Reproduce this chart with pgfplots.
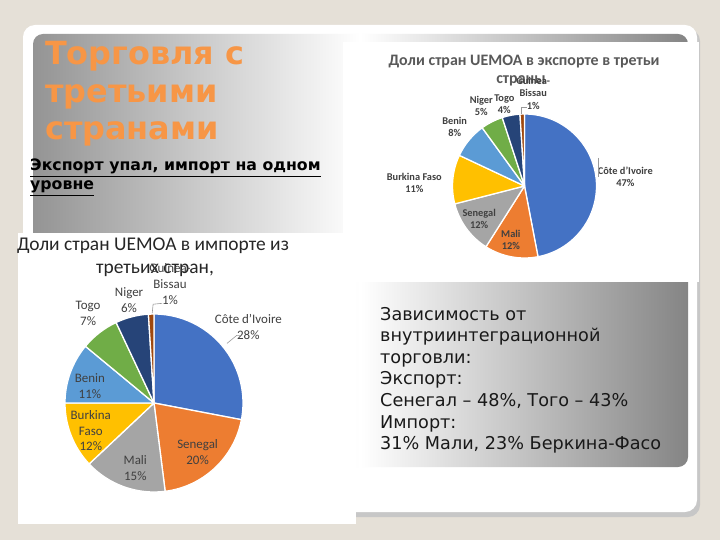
\documentclass[border=0pt]{standalone}
\usepackage{pgfplots}
\pgfplotsset{compat=1.18}
\usepackage{pgfplotstable}
\usepackage{fontspec}
\setmainfont{Carlito}
\newfontfamily\verd{DejaVu Sans}

\definecolor{bg}{HTML}{E5E0D7}
\definecolor{ttl}{HTML}{F79646}
\definecolor{txt}{HTML}{404040}
\definecolor{c1}{HTML}{4472C4}
\definecolor{c2}{HTML}{ED7D31}
\definecolor{c3}{HTML}{A5A5A5}
\definecolor{c4}{HTML}{FFC000}
\definecolor{c5}{HTML}{5B9BD5}
\definecolor{c6}{HTML}{70AD47}
\definecolor{c7}{HTML}{264478}
\definecolor{c8}{HTML}{9E480E}

\newcommand\nl{\\}

% shares in %, slice colour, label centre (pie radius = 1)
\pgfplotstableread[col sep=comma]{
name,share,col,lx,ly
Côte d'Ivoire,47,c1,1.40,0.125
Mali,12,c2,-0.19,-0.75
Senegal,12,c3,-0.63,-0.46
Burkina Faso,11,c4,-1.53,0.04
Benin,8,c5,-0.97,0.82
Niger,5,c6,-0.60,1.11
Togo,4,c7,-0.28,1.14
Guinea-\nl Bissau,1,c8,0.12,1.29
}\exporttab

\pgfplotstableread[col sep=comma]{
name,share,col,lx,ly
Côte d'Ivoire,28,c1,1.06,0.85
Senegal,20,c2,0.49,-0.55
Mali,15,c3,-0.21,-0.73
Burkina\nl Faso,12,c4,-0.71,-0.31
Benin,11,c5,-0.72,0.19
Togo,7,c6,-0.74,1.01
Niger,6,c7,-0.28,1.16
Guinea-\nl Bissau,1,c8,0.18,1.34
}\importtab

% #1 table, #2 radius, #3 label font
\newcommand\drawpie[3]{%
  \pgfplotstablegetrowsof{#1}%
  \pgfmathtruncatemacro\pielast{\pgfplotsretval-1}%
  \gdef\pieacc{90}%
  \foreach \i in {0,...,\pielast}{%
    \pgfplotstablegetelem{\i}{share}\of{#1}\let\sh\pgfplotsretval
    \pgfplotstablegetelem{\i}{col}\of{#1}\let\cl\pgfplotsretval
    \pgfmathsetmacro\aend{\pieacc-3.6*\sh}%
    \filldraw[fill=\cl, draw=white, line width=1.3pt, line join=round]
      (axis cs:0,0) -- ++(\pieacc:#2) arc[start angle=\pieacc, end angle=\aend, radius=#2] -- cycle;
    \xdef\pieacc{\aend}%
  }%
  \foreach \i in {0,...,\pielast}{%
    \pgfplotstablegetelem{\i}{share}\of{#1}\let\sh\pgfplotsretval
    \pgfplotstablegetelem{\i}{name}\of{#1}\let\nm\pgfplotsretval
    \pgfplotstablegetelem{\i}{lx}\of{#1}\let\lx\pgfplotsretval
    \pgfplotstablegetelem{\i}{ly}\of{#1}\let\ly\pgfplotsretval
    \node[align=center, text=txt, font=#3, inner sep=0pt] at (axis cs:\lx,\ly) {\nm\\\sh\%};
  }%
}

\begin{document}
\begin{tikzpicture}
\begin{scope}[x=1bp,y=-1bp]
\fill[bg] (0,0) rectangle (720,540);
% slide card and gradient panel
\fill[black!22, rounded corners=12bp] (26,29) rectangle (700,517);
\fill[white, rounded corners=12bp] (23,25) rectangle (697,512);
\shade[left color=black!42, right color=black!48, middle color=white, rounded corners=10bp] (33,34) rectangle (688,467);
% pasted chart images
\fill[white] (343,42) rectangle (699,282);
\fill[white] (18,233) rectangle (356,524);

\tikzset{ln/.style={anchor=base west, inner sep=0pt}}
\begin{scope}[every node/.append style={text=ttl, font=\verd\bfseries\fontsize{32}{38}\selectfont}]
\node[ln] at (45,65) {Торговля с};
\node[ln] at (45,102.5) {третьими};
\node[ln] at (45,140) {странами};
\end{scope}
\begin{scope}[every node/.append style={font=\verd\bfseries\fontsize{15.8}{19}\selectfont}]
\node[ln] at (30,171) {\underline{Экспорт упал, импорт на одном}};
\node[ln] at (30,190) {\underline{уровне}};
\end{scope}

\begin{scope}[every node/.append style={anchor=base, inner sep=0pt, text=black!65, font=\bfseries\fontsize{16}{19}\selectfont}]
\node at (524,66) {Доли стран UEMOA в экспорте в третьи};
\node at (521,84) {страны};
\end{scope}
\begin{scope}[every node/.append style={anchor=base, inner sep=0pt, text=black!85, font=\fontsize{19.5}{23}\selectfont}]
\node at (153,251) {Доли стран UEMOA в импорте из};
\node at (155,274) {третьих стран,};
\end{scope}

\begin{scope}[every node/.append style={text=black!90, font=\verd\fontsize{17.7}{21.6}\selectfont}]
\node[ln] at (380,320) {Зависимость от};
\node[ln] at (380,341.6) {внутриинтеграционной};
\node[ln] at (380,363.2) {торговли:};
\node[ln] at (380,384.8) {Экспорт:};
\node[ln] at (380,406.4) {Сенегал – 48\%, Того – 43\%};
\node[ln] at (380,428) {Импорт:};
\node[ln] at (380,449.6) {31\% Мали, 23\% Беркина-Фасо};
\end{scope}
\end{scope}

% export pie
\begin{axis}[hide axis, x=72bp, y=72bp, xmin=-1, xmax=1, ymin=-1, ymax=1,
  clip=false, anchor=center, at={(524.5bp,-186bp)}]
\pgfplotsextra{\drawpie{\exporttab}{72bp}{\bfseries\fontsize{10.4}{12.5}\selectfont}}
\addplot[no marks, black!40, line width=0.6pt] coordinates {(1.02,0.39) (1.02,0.12)};
\addplot[no marks, black!40, line width=0.6pt] coordinates {(-0.04,1.00) (-0.04,1.10) (0.03,1.10)};
\end{axis}

% import pie
\begin{axis}[hide axis, x=89bp, y=89bp, xmin=-1, xmax=1, ymin=-1, ymax=1,
  clip=false, anchor=center, at={(154bp,-403bp)}]
\pgfplotsextra{\drawpie{\importtab}{89bp}{\fontsize{13}{16}\selectfont}}
\addplot[no marks, black!40, line width=0.6pt] coordinates {(0.82,0.67) (0.93,0.76) (0.97,0.76)};
\addplot[no marks, black!40, line width=0.6pt] coordinates {(-0.02,1.01) (-0.01,1.11) (0.09,1.12)};
\end{axis}
\end{tikzpicture}
\end{document}
